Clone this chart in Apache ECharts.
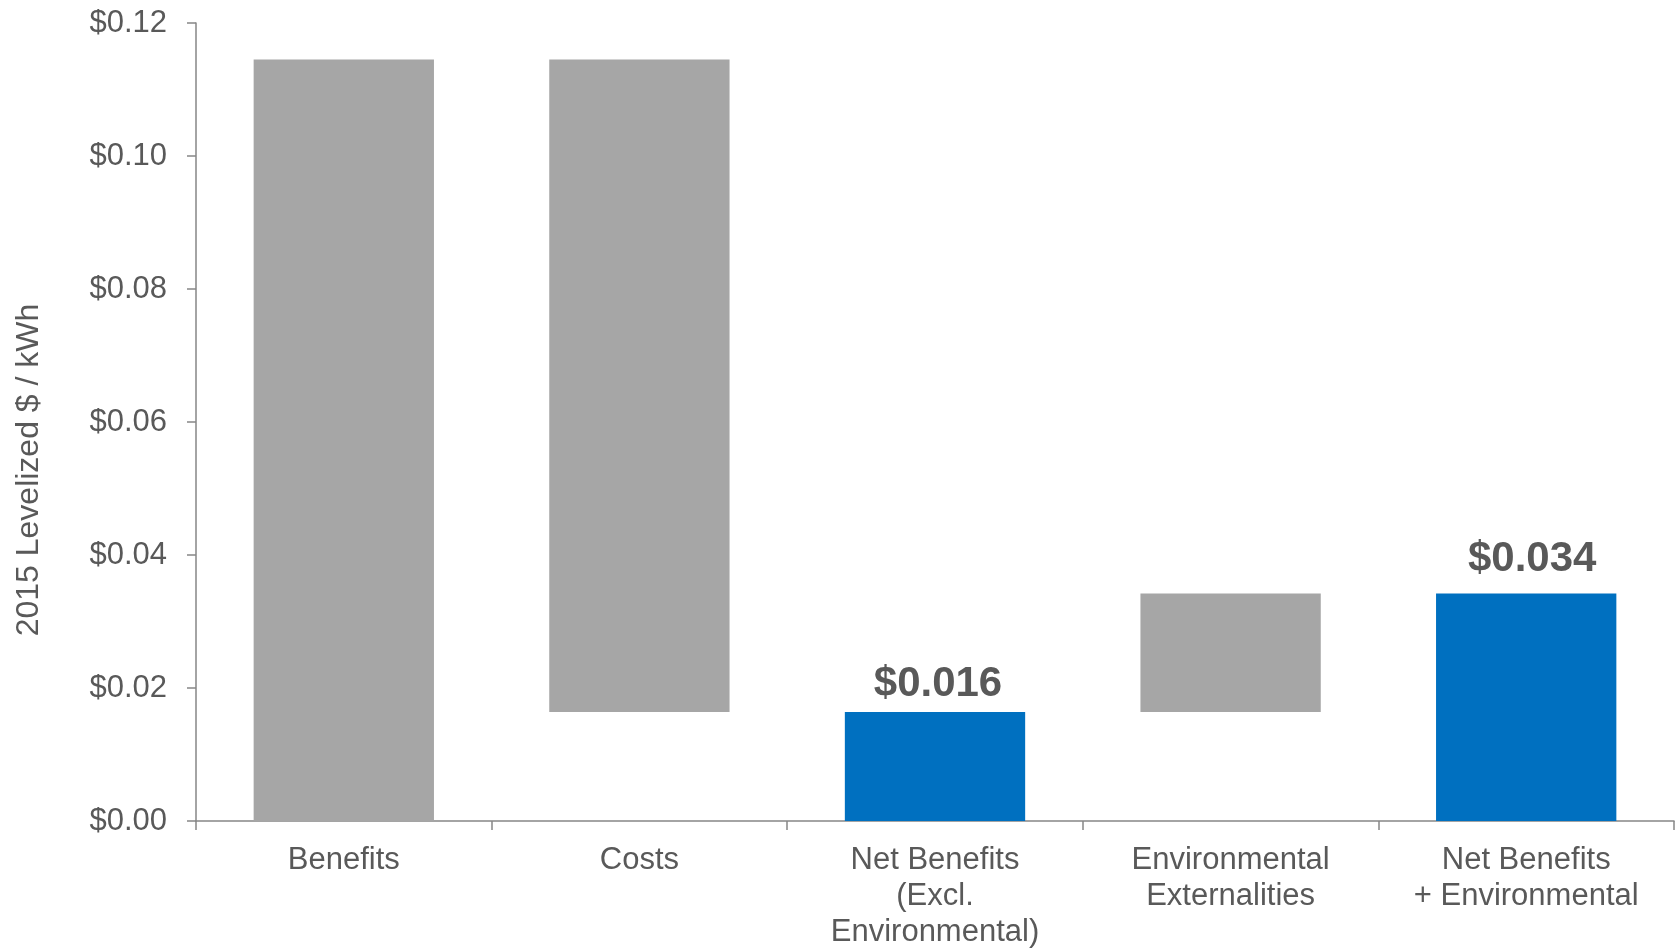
<!DOCTYPE html>
<html>
<head>
<meta charset="utf-8">
<script src="https://cdn.jsdelivr.net/npm/echarts@6/dist/echarts.min.js"></script>
<style>
html,body{margin:0;padding:0;background:#fff;}
#chart{width:1679px;height:950px;}
</style>
</head>
<body>
<div id="chart"></div>
<script>
const categories = ['Benefits', 'Costs', 'Net Benefits\n(Excl.\nEnvironmental)', 'Environmental\nExternalities', 'Net Benefits\n+ Environmental'];
const baseValues = [0, 0.0164, 0, 0.0164, 0];
const barValues = [0.1145, 0.0981, 0.0164, 0.0178, 0.0342];
const barKinds = ['grey', 'grey', 'blue', 'grey', 'blue'];
const labelTexts = ['', '', '$0.016', '', '$0.034'];
const yTicks = { min: 0, max: 0.12, interval: 0.02 };
const yAxisTitle = '2015 Levelized $ / kWh';

const FONT = '"Liberation Sans", Arial, sans-serif';
const TEXT = '#595959';
const AXIS = '#868686';
const colors = { grey: '#A6A6A6', blue: '#0070C0' };
const labelDist = [5, 5, 7, 5, 13];
const labelShift = [0, 0, 3, 0, 6];

const chart = echarts.init(document.getElementById('chart'), null, { renderer: 'canvas' });
chart.setOption({
  animation: false,
  backgroundColor: '#fff',
  grid: { left: 196, right: 5, top: 23, bottom: 126, containLabel: false },
  xAxis: {
    type: 'category',
    data: categories,
    axisLine: { lineStyle: { color: AXIS, width: 1.5 } },
    axisTick: { show: true, length: 9, lineStyle: { color: AXIS, width: 1.5 } },
    axisLabel: { color: TEXT, fontFamily: FONT, fontSize: 31, lineHeight: 36, margin: 21, interval: 0 }
  },
  yAxis: {
    type: 'value',
    min: yTicks.min, max: yTicks.max, interval: yTicks.interval,
    axisLine: { show: true, lineStyle: { color: AXIS, width: 1.5 } },
    axisTick: { show: true, length: 9, lineStyle: { color: AXIS, width: 1.5 } },
    splitLine: { show: false },
    axisLabel: { color: TEXT, fontFamily: FONT, fontSize: 31, margin: 29, formatter: v => '$' + v.toFixed(2) }
  },
  graphic: [{
    type: 'text',
    x: 29, y: 470,
    rotation: Math.PI / 2,
    style: { text: yAxisTitle, fill: TEXT, font: '32px ' + FONT, textAlign: 'center', textVerticalAlign: 'middle' }
  }],
  series: [
    {
      type: 'bar', stack: 's', barWidth: '61%',
      data: baseValues,
      itemStyle: { color: 'transparent' },
      emphasis: { disabled: true },
      silent: true
    },
    {
      type: 'bar', stack: 's', barWidth: '61%',
      data: barValues.map((v, i) => ({
        value: v,
        itemStyle: { color: colors[barKinds[i]] },
        label: {
          show: labelTexts[i] !== '',
          position: 'top',
          distance: labelDist[i],
          offset: [labelShift[i], 0],
          formatter: labelTexts[i],
          color: TEXT, fontFamily: FONT, fontSize: 42, fontWeight: 'bold'
        }
      }))
    }
  ]
});
</script>
</body>
</html>
